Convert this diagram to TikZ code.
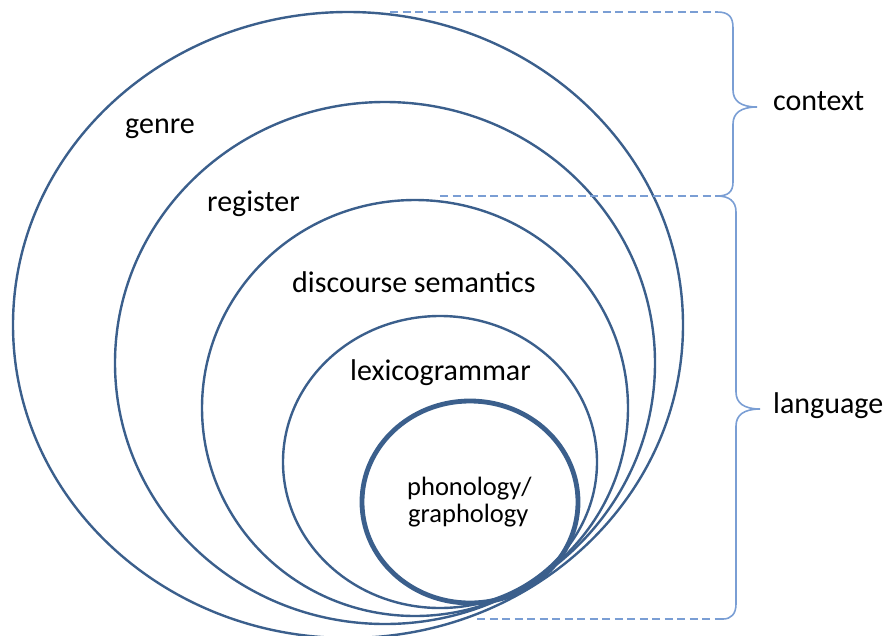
\documentclass[tikz,border=0pt]{standalone}
\usepackage{fontspec}
\setmainfont{Carlito}
\definecolor{ringblue}{HTML}{3B5F8C}
\definecolor{braceblue}{HTML}{7A9ED4}
\tikzset{
  ring/.style={draw=ringblue, line width=2.4pt},
  thickring/.style={draw=ringblue, line width=4.8pt},
  lbl/.style={anchor=base west, inner sep=0pt, font=\fontsize{30}{32}\selectfont},
  smalllbl/.style={anchor=base west, inner sep=0pt, font=\fontsize{26.5}{28}\selectfont},
  bracepath/.style={draw=braceblue, line width=1.6pt},
  guide/.style={draw=braceblue, line width=1.3pt, dash pattern=on 8pt off 4.5pt}
}
\begin{document}
\begin{tikzpicture}[x=1pt,y=-1pt]
\useasboundingbox (0,0) rectangle (889,635);
\clip (0,0) rectangle (889,635);
% rings
\draw[ring] (348,325) ellipse [x radius=335, y radius=313];
\draw[ring] (385,363) ellipse [x radius=270, y radius=261];
\draw[ring] (415,408) ellipse [x radius=213, y radius=208];
\draw[ring] (440,462) ellipse [x radius=157, y radius=146];
\draw[thickring] (470,502) ellipse [x radius=108, y radius=101];
% labels
\node[lbl] (genre) at (125,133) {genre};
\node[lbl] (register) at (207,211) {register};
\node[lbl] (disc) at (292,292) {discourse semantics};
\node[lbl] (lexi) at (350,380) {lexicogrammar};
\node[smalllbl] (phon) at (407,495) {phonology/};
\node[smalllbl] (graph) at (408,522) {graphology};
\node[lbl] (context) at (773,110) {context};
\node[lbl] (language) at (773,413) {language};
% guide lines
\coordinate (g1) at (390,12);
\coordinate (g2) at (440,196);
\coordinate (g3) at (477,619);
\coordinate (b1) at (717,12);
\coordinate (b2) at (717,196);
\coordinate (b3) at (723,619);
\draw[guide] (g1) -- (b1);
\draw[guide] (g2) -- (b2);
\draw[guide] (g3) -- (b3);
% context brace
\draw[bracepath] (b1) .. controls (729,12) and (733,17) .. (733,28)
  -- (733,90) .. controls (733,101) and (741,107) .. (757,107)
  .. controls (741,107) and (733,113) .. (733,124)
  -- (733,182) .. controls (733,192) and (728,196) .. (b2);
% language brace
\draw[bracepath] (b2) .. controls (729,196) and (736,201) .. (736,212)
  -- (736,392) .. controls (736,403) and (744,409) .. (760,409)
  .. controls (744,409) and (736,415) .. (736,426)
  -- (736,604) .. controls (736,614) and (731,619) .. (b3);
\end{tikzpicture}
\end{document}
